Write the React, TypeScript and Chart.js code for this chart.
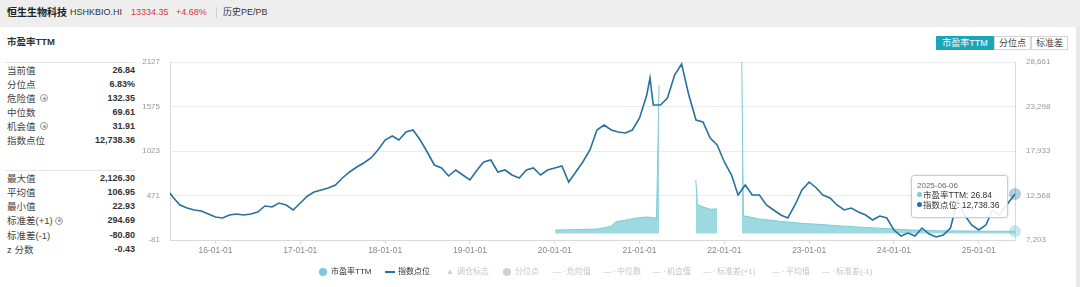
import React, { useEffect, useRef } from 'react';
import { Chart, registerables } from 'chart.js';

Chart.register(...registerables);

const FONT = '"Liberation Sans", Arial, "Noto Sans CJK SC", sans-serif';

// ---- data ----
const indexDates = [
  '2015-06-19', '2015-07-01', '2015-08-01', '2015-09-01', '2015-10-01', '2015-11-01', '2015-12-01',
  '2016-01-01', '2016-02-01', '2016-03-01', '2016-04-01', '2016-05-01', '2016-06-01', '2016-07-01', '2016-08-01', '2016-09-01', '2016-10-01', '2016-11-01', '2016-12-01',
  '2017-01-01', '2017-02-01', '2017-03-01', '2017-04-01', '2017-05-01', '2017-06-01', '2017-07-01', '2017-08-01', '2017-09-01', '2017-10-01', '2017-11-01', '2017-12-01',
  '2018-01-01', '2018-02-01', '2018-03-01', '2018-04-01', '2018-05-01', '2018-06-01', '2018-07-01', '2018-08-01', '2018-09-01', '2018-10-01', '2018-11-01', '2018-12-01',
  '2019-01-01', '2019-02-01', '2019-03-01', '2019-04-01', '2019-05-01', '2019-06-01', '2019-07-01', '2019-08-01', '2019-09-01', '2019-10-01', '2019-11-01', '2019-12-01',
  '2020-01-01', '2020-02-01', '2020-03-01', '2020-04-01', '2020-05-01', '2020-06-01', '2020-07-01', '2020-08-01', '2020-09-01', '2020-10-01', '2020-11-01', '2020-12-01',
  '2021-01-01', '2021-02-01', '2021-02-15', '2021-03-01', '2021-04-01', '2021-05-01', '2021-06-01', '2021-07-01', '2021-08-01', '2021-09-01', '2021-10-01', '2021-11-01', '2021-12-01',
  '2022-01-01', '2022-02-01', '2022-03-01', '2022-04-01', '2022-05-01', '2022-06-01', '2022-07-01', '2022-08-01', '2022-09-01', '2022-10-01', '2022-11-01', '2022-12-01',
  '2023-01-01', '2023-02-01', '2023-03-01', '2023-04-01', '2023-05-01', '2023-06-01', '2023-07-01', '2023-08-01', '2023-09-01', '2023-10-01', '2023-11-01', '2023-12-01',
  '2024-01-01', '2024-02-01', '2024-03-01', '2024-04-01', '2024-05-01', '2024-06-01', '2024-07-01', '2024-08-01', '2024-09-01', '2024-10-01', '2024-11-01', '2024-12-01',
  '2025-01-01', '2025-02-01', '2025-03-01', '2025-04-01', '2025-05-01', '2025-06-06',
];
const indexValues = [
  12869, 12387, 11422, 11061, 10820, 10699, 10337,
  9976, 9855, 10217, 10337, 10217, 10337, 10578, 11302, 11181, 11663, 11422, 10820,
  11663, 12507, 12989, 13231, 13472, 13833, 14677, 15400, 16003, 16485, 17088, 18053,
  19258, 19740, 19258, 20222, 20464, 19258, 17811, 16244, 15883, 14918, 15642, 15039,
  14436, 15642, 16606, 16847, 15400, 15642, 15039, 14677, 15642, 15883, 15039, 15642,
  15883, 16124, 14195, 15400, 16606, 18053, 20464, 21066, 20464, 20222, 20102, 20464,
  21910, 24683, 26732, 23477, 23477, 24321, 27094, 28420, 24683, 21669, 21428, 19499, 18655,
  16606, 15039, 12628, 13833, 12628, 12628, 11422, 10820, 10217, 9855, 11422, 13231,
  14195, 13472, 12628, 12266, 11422, 10820, 11061, 10578, 10217, 9614, 10096, 9855,
  8409, 7685, 8047, 7685, 8650, 7926, 7565, 7806, 8650, 12025, 10217, 9011,
  8409, 9011, 10820, 10217, 11422, 12738.36,
];

const peDates = [
  '2020-01-03', '2020-03-01', '2020-05-01', '2020-07-01', '2020-08-01', '2020-09-01', '2020-09-20', '2020-11-01', '2020-12-15',
  '2021-02-01', '2021-03-15', '2021-03-26', '2021-04-01',
  '2021-08-31', '2021-09-07', '2021-10-01', '2021-11-01', '2021-12-01', '2021-12-08',
  '2022-03-17', '2022-03-24', '2022-06-01', '2022-09-01', '2022-12-01', '2023-03-01', '2023-06-01', '2023-09-01', '2023-12-01',
  '2024-03-01', '2024-06-01', '2024-09-01', '2024-12-01', '2025-03-01', '2025-06-06',
];
const peValues = [
  43, 45, 50, 55, 70, 90, 145, 165, 190,
  205, 190, 1841, null,
  663, 360, 330, 300, 305, null,
  2126.3, 220, 180, 150, 125, 110, 90, 75, 60,
  45, 35, 32, 30, 28, 26.84,
];

const xTickYears = [2016, 2017, 2018, 2019, 2020, 2021, 2022, 2023, 2024, 2025];
const peTicks = [-81, 471, 1023, 1575, 2127];
const indexTicks = [7203, 12568, 17933, 23298, 28661];

const statsTop: [string, string, boolean][] = [
  ['当前值', '26.84', false],
  ['分位点', '6.83%', false],
  ['危险值', '132.35', true],
  ['中位数', '69.61', false],
  ['机会值', '31.91', true],
  ['指数点位', '12,738.36', false],
];
const statsBottom: [string, string, boolean][] = [
  ['最大值', '2,126.30', false],
  ['平均值', '106.95', false],
  ['最小值', '22.93', false],
  ['标准差(+1)', '294.69', true],
  ['标准差(-1)', '-80.80', false],
  ['z 分数', '-0.43', false],
];

const legendItems: [string, string, boolean][] = [
  ['circle', '市盈率TTM', true],
  ['line', '指数点位', true],
  ['triangle', '调仓标志', false],
  ['circle', '分位点', false],
  ['dash', '危险值', false],
  ['dash', '中位数', false],
  ['dash', '机会值', false],
  ['dash', '标准差(+1)', false],
  ['dash', '平均值', false],
  ['dash', '标准差(-1)', false],
];
const legendX = [319, 385, 446, 503, 553, 603, 653, 703, 772, 822];

const INDEX_COLOR = '#26719e';
const PE_LINE = '#7ccbd6';
const PE_FILL = 'rgba(140,210,220,0.85)';

function toYear(s: string): number {
  const [y, m, d] = s.split('-').map(Number);
  const t = Date.UTC(y, m - 1, d);
  const a = Date.UTC(y, 0, 1);
  const b = Date.UTC(y + 1, 0, 1);
  return y + (t - a) / (b - a);
}

function fmt(n: number, dec = 0) {
  return n.toLocaleString('en-US', { minimumFractionDigits: dec, maximumFractionDigits: dec });
}

const hoverDots = {
  id: 'hoverDots',
  afterDatasetsDraw(chart: any) {
    const ctx = chart.ctx;
    const specs: [number, string][] = [
      [0, 'rgba(38,113,158,0.35)'],
      [1, 'rgba(124,203,214,0.45)'],
    ];
    specs.forEach(([i, fill]) => {
      const meta = chart.getDatasetMeta(i);
      const pt = meta.data[meta.data.length - 1];
      if (!pt) return;
      ctx.save();
      ctx.beginPath();
      ctx.arc(pt.x, pt.y, 6, 0, Math.PI * 2);
      ctx.fillStyle = fill;
      ctx.fill();
      ctx.restore();
    });
  },
};

function Txt(props: { x: number; y: number; size: number; color?: string; bold?: boolean; right?: boolean; children: any }) {
  const lh = Math.round(props.size * 1.4);
  const style: any = {
    position: 'absolute',
    top: props.y - lh / 2,
    height: lh,
    lineHeight: lh + 'px',
    fontSize: props.size,
    color: props.color || '#333',
    fontWeight: props.bold ? 'bold' : 'normal',
    whiteSpace: 'nowrap',
  };
  if (props.right) style.right = 1080 - props.x;
  else style.left = props.x;
  return <div style={style}>{props.children}</div>;
}

function Gear({ x, y }: { x: number; y: number }) {
  return (
    <div style={{ position: 'absolute', left: x - 4, top: y - 4, width: 6, height: 6, borderRadius: '50%', border: '1px solid #999' }}>
      <div style={{ position: 'absolute', left: 1.5, top: 1.5, width: 3, height: 3, borderRadius: '50%', background: '#999' }} />
    </div>
  );
}

export default function App() {
  const ref = useRef<HTMLCanvasElement>(null);

  useEffect(() => {
    if (!ref.current) return;
    const tick = { size: 8, family: FONT };
    const chart = new Chart(ref.current, {
      type: 'line',
      data: {
        datasets: [
          {
            label: '指数点位',
            data: indexDates.map((d, i) => ({ x: toYear(d), y: indexValues[i] })),
            yAxisID: 'yIdx',
            borderColor: INDEX_COLOR,
            borderWidth: 1.6,
            pointRadius: 0,
            fill: false,
            tension: 0,
          },
          {
            label: '市盈率TTM',
            data: peDates.map((d, i) => ({ x: toYear(d), y: peValues[i] })),
            yAxisID: 'yPE',
            borderColor: PE_LINE,
            backgroundColor: PE_FILL,
            borderWidth: 1,
            pointRadius: 0,
            fill: 'origin',
            spanGaps: false,
            tension: 0,
          },
        ],
      } as any,
      options: {
        animation: false,
        responsive: false,
        devicePixelRatio: 1,
        layout: { padding: { left: 130, right: 5, top: 62, bottom: 0 } },
        plugins: { legend: { display: false }, tooltip: { enabled: false } },
        events: [],
        scales: {
          x: {
            type: 'linear',
            min: toYear(indexDates[0]),
            max: toYear(indexDates[indexDates.length - 1]),
            afterBuildTicks: (a: any) => { a.ticks = xTickYears.map((v) => ({ value: v })); },
            afterFit: (a: any) => { a.height = 47; },
            grid: { drawOnChartArea: false, drawTicks: true, tickLength: 4, color: '#d3dbe3' },
            border: { color: '#d3dbe3' },
            ticks: {
              font: { size: 8.5, family: FONT },
              color: '#888',
              padding: 2,
              maxRotation: 0,
              autoSkip: false,
              callback: (v: any) => `${String(v).slice(2)}-01-01`,
            },
          },
          yPE: {
            type: 'linear',
            position: 'left',
            min: peTicks[0],
            max: peTicks[peTicks.length - 1],
            afterBuildTicks: (a: any) => { a.ticks = peTicks.map((v) => ({ value: v })); },
            afterFit: (a: any) => { a.width = 40; },
            grid: { color: '#ebebeb', drawTicks: false },
            border: { color: '#d3dbe3' },
            ticks: { font: tick, color: '#999', padding: 10, callback: (v: any) => String(v) },
          },
          yIdx: {
            type: 'linear',
            position: 'right',
            min: indexTicks[0],
            max: indexTicks[indexTicks.length - 1],
            afterBuildTicks: (a: any) => { a.ticks = indexTicks.map((v) => ({ value: v })); },
            afterFit: (a: any) => { a.width = 60; },
            grid: { drawOnChartArea: false, drawTicks: false },
            border: { color: '#d3dbe3' },
            ticks: { font: tick, color: '#999', padding: 11, callback: (v: any) => fmt(Number(v)) },
          },
        },
      } as any,
      plugins: [hoverDots],
    });
    return () => chart.destroy();
  }, []);

  const lastDate = indexDates[indexDates.length - 1];
  const lastPE = peValues[peValues.length - 1] as number;
  const lastIdx = indexValues[indexValues.length - 1];

  return (
    <div style={{ position: 'fixed', left: 0, top: 0, width: 1080, height: 287, background: '#fff', fontFamily: FONT, overflow: 'hidden' }}>
      {/* header band */}
      <div style={{ position: 'absolute', left: 0, top: 0, width: 1080, height: 27, background: '#eeeeee' }} />
      <div style={{ position: 'absolute', left: 1076, top: 27, width: 4, height: 260, background: '#e8e8e8' }} />
      <Txt x={7} y={12.5} size={10} bold color="#222">恒生生物科技</Txt>
      <Txt x={70} y={12.5} size={9} color="#333">HSHKBIO.HI</Txt>
      <Txt x={131} y={12.5} size={9} color="#e0323f">13334.35</Txt>
      <Txt x={176} y={12.5} size={9} color="#e0323f">+4.68%</Txt>
      <div style={{ position: 'absolute', left: 216, top: 7, width: 1, height: 11, background: '#cfcfcf' }} />
      <Txt x={223} y={12.5} size={9} color="#333">历史PE/PB</Txt>

      {/* left panel */}
      <Txt x={7} y={41.7} size={9.5} bold color="#333">市盈率TTM</Txt>
      <div style={{ position: 'absolute', left: 5, top: 62, width: 130, height: 1, background: '#e6e6e6' }} />
      {statsTop.map(([k, v, g], i) => (
        <React.Fragment key={'a' + i}>
          <Txt x={7} y={70 + 14 * i} size={9.5} color="#444">{k}</Txt>
          {g ? <Gear x={44} y={70 + 14 * i} /> : null}
          <Txt x={135} y={70 + 14 * i} size={9} bold right color="#333">{v}</Txt>
        </React.Fragment>
      ))}
      <div style={{ position: 'absolute', left: 5, top: 170, width: 130, height: 1, background: '#e6e6e6' }} />
      {statsBottom.map(([k, v, g], i) => (
        <React.Fragment key={'b' + i}>
          <Txt x={7} y={178.3 + 14.2 * i} size={9.5} color="#444">{k}</Txt>
          {g ? <Gear x={59} y={178.3 + 14.2 * i} /> : null}
          <Txt x={135} y={178.3 + 14.2 * i} size={9} bold right color="#333">{v}</Txt>
        </React.Fragment>
      ))}

      {/* buttons */}
      <div style={{ position: 'absolute', left: 936, top: 36, width: 58, height: 14, background: '#1ba5bb', color: '#fff', fontSize: 9, lineHeight: '14px', textAlign: 'center' }}>市盈率TTM</div>
      <div style={{ position: 'absolute', left: 994, top: 36, width: 35, height: 12, border: '1px solid #d5d5d5', color: '#444', fontSize: 9, lineHeight: '12px', textAlign: 'center' }}>分位点</div>
      <div style={{ position: 'absolute', left: 1031, top: 36, width: 35, height: 12, border: '1px solid #d5d5d5', color: '#444', fontSize: 9, lineHeight: '12px', textAlign: 'center' }}>标准差</div>

      <canvas ref={ref} width={1080} height={287} style={{ position: 'absolute', left: 0, top: 0, width: 1080, height: 287 }} />

      {/* tooltip */}
      <div style={{ position: 'absolute', left: 911, top: 175, width: 95, height: 41, background: 'rgba(255,255,255,0.88)', border: '1px solid #b9d3de', borderRadius: 3, boxShadow: '0 0 3px rgba(0,0,0,0.15)' }} />
      <Txt x={917} y={185} size={8} color="#666">{lastDate}</Txt>
      <div style={{ position: 'absolute', left: 917, top: 192, width: 5, height: 5, borderRadius: '50%', background: PE_LINE }} />
      <Txt x={923} y={194.5} size={8.5} color="#333">{`市盈率TTM: ${fmt(lastPE, 2)}`}</Txt>
      <div style={{ position: 'absolute', left: 917, top: 202, width: 5, height: 5, borderRadius: '50%', background: INDEX_COLOR }} />
      <Txt x={923} y={204.5} size={8.5} color="#333">{`指数点位: ${fmt(lastIdx, 2)}`}</Txt>

      {/* legend */}
      {legendItems.map(([shape, label, on], i) => {
        const x = legendX[i];
        const c = on ? '#333' : '#c4c4c4';
        let icon: any = null;
        if (shape === 'circle') icon = <div style={{ position: 'absolute', left: x, top: 267.7, width: 8, height: 8, borderRadius: '50%', background: on ? PE_LINE : '#cfcfcf' }} />;
        if (shape === 'line') icon = <div style={{ position: 'absolute', left: x, top: 270.7, width: 10, height: 2, background: INDEX_COLOR }} />;
        if (shape === 'triangle') icon = <Txt x={x} y={271.7} size={8} color="#cfcfcf">▲</Txt>;
        if (shape === 'dash') icon = <Txt x={x} y={271.7} size={8} color="#c4c4c4">— ·</Txt>;
        const tx = shape === 'circle' ? x + 12 : shape === 'line' ? x + 13 : shape === 'triangle' ? x + 11 : x + 14;
        return (
          <React.Fragment key={'l' + i}>
            {icon}
            <Txt x={tx} y={271.7} size={8} color={c}>{label}</Txt>
          </React.Fragment>
        );
      })}
    </div>
  );
}
